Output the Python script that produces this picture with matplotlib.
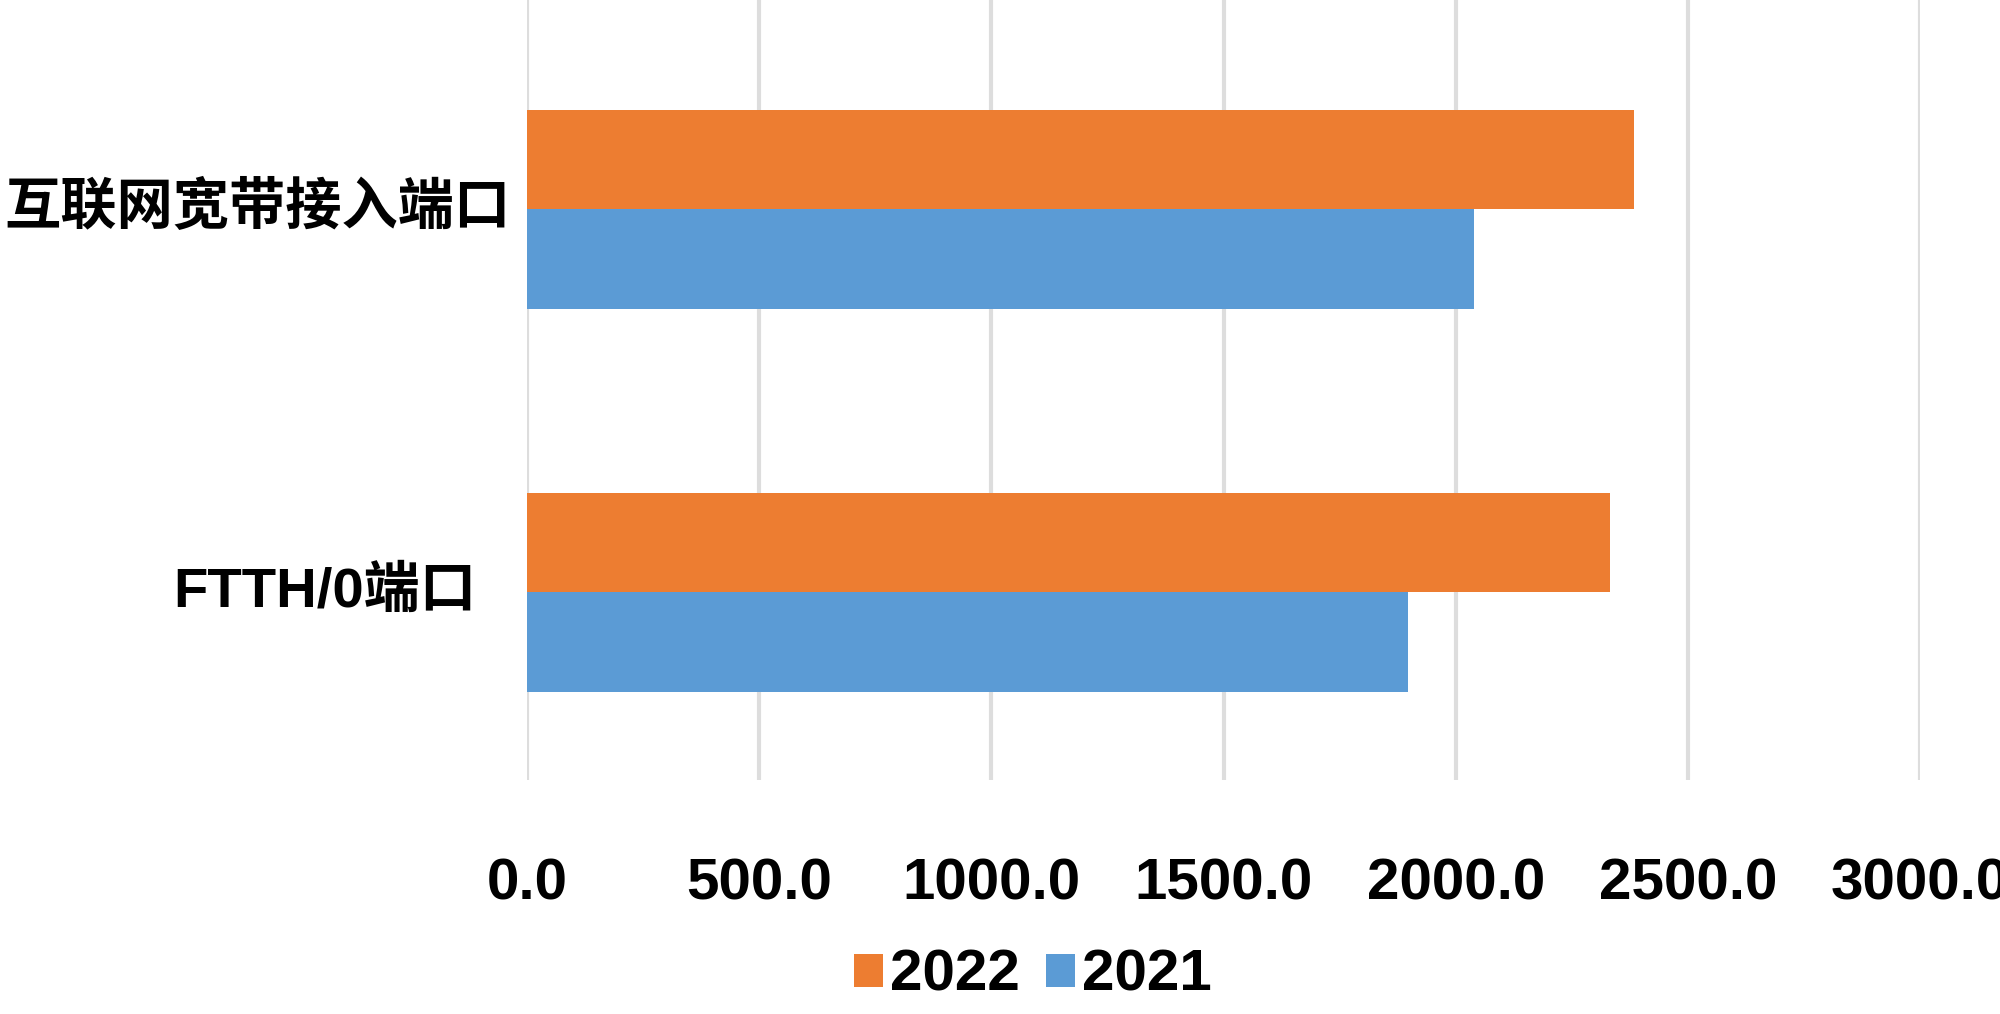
import matplotlib.pyplot as plt
import matplotlib.transforms as mtransforms

# data
categories = ['FTTH/0端口', '互联网宽带接入端口']
values_2022 = [2332, 2384]
values_2021 = [1897, 2040]
xticks = [0, 500, 1000, 1500, 2000, 2500, 3000]

orange = '#ED7D31'
blue = '#5B9BD5'
fonts = ['Liberation Sans', 'Noto Sans CJK SC', 'DejaVu Sans']
plt.rcParams['font.family'] = fonts

fig = plt.figure(figsize=(20, 10.14), dpi=100)
ax = fig.add_axes([0.2635, 0.2308, 0.6965, 0.7692])

pos = list(range(len(categories)))
h = 0.26
ax.barh([p + h / 2 for p in pos], values_2022, height=h, color=orange, label='2022', zorder=2)
ax.barh([p - h / 2 for p in pos], values_2021, height=h, color=blue, label='2021', zorder=2)

ax.set_xlim(0, 3000)
ax.set_ylim(-0.49, 1.546)
ax.set_xticks(xticks)
ax.set_xticklabels([f'{t:.1f}' for t in xticks], fontsize=42, fontweight='bold')
ax.tick_params(axis='x', length=0, pad=56)
ax.set_yticks([])
ax.grid(axis='x', color='#DDDDDD', linewidth=3, zorder=0)
for s in ax.spines.values():
    s.set_visible(False)

# category labels, placed by hand like the original
trans = mtransforms.blended_transform_factory(ax.transAxes, ax.transData)
offsets = [0.036, 0.012]
for p, lab, off in zip(pos, categories, offsets):
    ax.text(-off, p, lab, transform=trans, ha='right', va='center',
            fontsize=40.5, fontweight='bold', family=fonts)

leg = fig.legend(loc='center', bbox_to_anchor=(0.5165, 0.0375), ncol=2, frameon=False,
                 prop={'size': 42, 'weight': 'bold'}, handlelength=0.5, handleheight=0.5,
                 handletextpad=0.12, columnspacing=0.45)

fig.savefig('out.png', dpi=100)
